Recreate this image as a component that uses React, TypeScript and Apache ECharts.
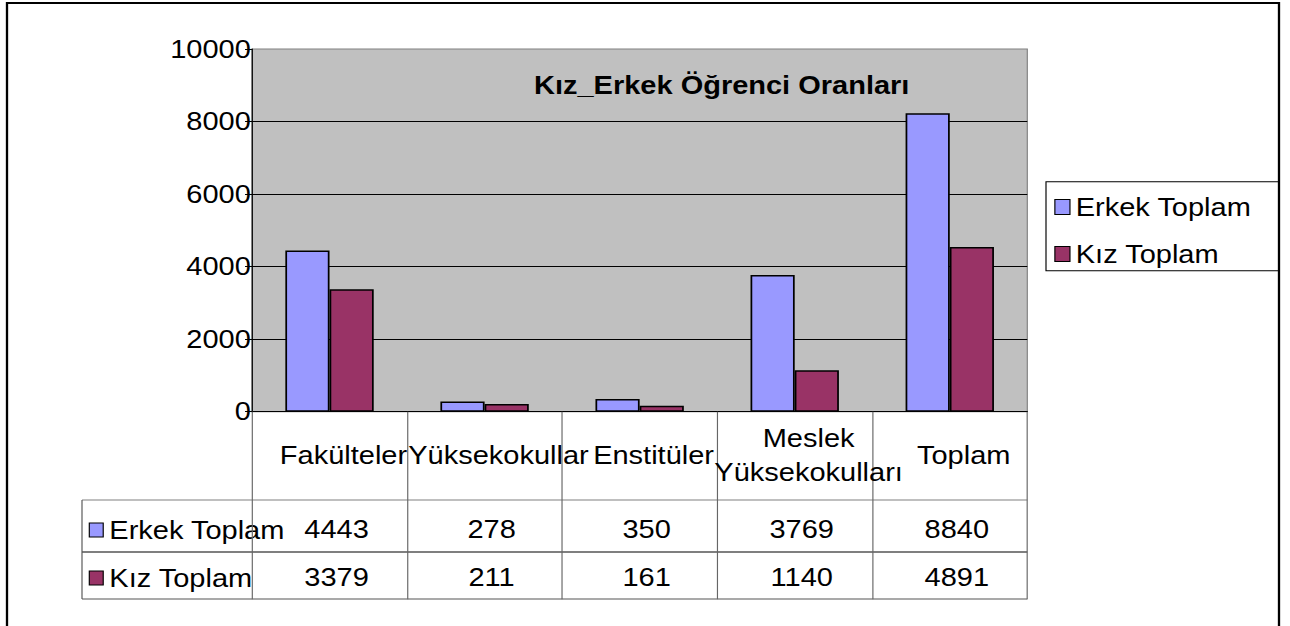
import React, { useEffect, useRef } from "react";
import * as echarts from "echarts";

// ---- data ----
const categories = ["Fakülteler", "Yüksekokullar", "Enstitüler", "Meslek\nYüksekokulları", "Toplam"];
const seriesNames = ["Erkek Toplam", "Kız Toplam"];
// bar heights as drawn in the picture
const erkekBars = [4443, 278, 350, 3769, 8230];
const kizBars = [3379, 211, 161, 1140, 4540];
// values printed in the data table
const erkekTable = ["4443", "278", "350", "3769", "8840"];
const kizTable = ["3379", "211", "161", "1140", "4891"];
const yTicks = { min: 0, max: 10000, interval: 2000 };
const titleText = "Kız_Erkek Öğrenci Oranları";

// ---- style ----
const S = 1.16; // horizontal stretch of the reference
const W = 1290 / S;
const FONT = "'Liberation Sans', Arial, sans-serif";
const ERKEK = "#9999FF";
const KIZ = "#993366";
const FS = 25;

export default function App() {
  const ref = useRef<HTMLDivElement>(null);
  useEffect(() => {
    if (!ref.current) return;
    const chart = echarts.init(ref.current, null, { renderer: "svg" });
    const gridLeft = 252 / S;
    const gridRight = 1027.3 / S;
    const gridTop = 49;
    const gridBottom = 411.7;
    const option: any = {
      animation: false,
      textStyle: { fontFamily: FONT },
      title: {
        text: titleText,
        left: 534 / S,
        top: 70,
        padding: 0,
        textStyle: { fontSize: FS, fontWeight: "bold", color: "#000", lineHeight: 30, fontFamily: FONT },
      },
      legend: {
        data: seriesNames,
        orient: "vertical",
        left: 1054.3 / S,
        top: 192,
        padding: 0,
        itemWidth: 13,
        itemHeight: 15,
        itemGap: 17,
        icon: "rect",
        itemStyle: { borderColor: "#000", borderWidth: 1 },
        textStyle: { fontSize: FS, color: "#000", lineHeight: 30, fontFamily: FONT },
      },
      grid: {
        left: gridLeft,
        top: gridTop,
        width: gridRight - gridLeft,
        height: gridBottom - gridTop,
        show: true,
        backgroundColor: "#C0C0C0",
        borderColor: "#808080",
        borderWidth: 1,
        containLabel: false,
        outerBoundsMode: "none",
      },
      xAxis: {
        type: "category",
        data: categories,
        axisLine: { show: true, lineStyle: { color: "#000", width: 1 } },
        axisTick: { show: true, length: 187.5, lineStyle: { color: "#666", width: 1 } },
        axisLabel: {
          interval: 0,
          margin: 44,
          verticalAlign: "middle",
          fontSize: FS,
          lineHeight: 34,
          color: "#000",
          fontFamily: FONT,
          padding: [0, 0, 0, 24],
          hideOverlap: false,
        },
        splitLine: { show: false },
      },
      yAxis: {
        type: "value",
        min: yTicks.min,
        max: yTicks.max,
        interval: yTicks.interval,
        axisLine: { show: true, lineStyle: { color: "#000", width: 1 } },
        axisTick: { show: true, length: 6, lineStyle: { color: "#000" } },
        axisLabel: {
          margin: 1,
          fontSize: FS,
          color: "#000",
          fontFamily: FONT,
          formatter: (v: number) => String(v),
        },
        splitLine: { show: true, showMaxLine: false, lineStyle: { color: "#000", width: 1 } },
      },
      series: [
        {
          name: seriesNames[0],
          type: "bar",
          data: erkekBars,
          barGap: "0%",
          barCategoryGap: "43%",
          itemStyle: { color: ERKEK, borderColor: "#000", borderWidth: 1.5 },
        },
        {
          name: seriesNames[1],
          type: "bar",
          data: kizBars,
          barGap: "0%",
          barCategoryGap: "43%",
          itemStyle: { color: KIZ, borderColor: "#000", borderWidth: 1.5 },
        },
      ],
    };
    chart.setOption(option);

    const centers = categories.map((_, i) => {
      const p = chart.convertToPixel({ gridIndex: 0 }, [i, 0]) as number[];
      return p[0];
    });
    const rowY = [529, 577];
    const lineTop = 500;
    const lineMid = 552;
    const lineBot = 599;
    const tableLeft = 82 / S;
    const graphics: any[] = [
      {
        type: "rect",
        shape: { x: 7 / S, y: 3, width: (1279 - 7) / S, height: 660 },
        style: { fill: "none", stroke: "#000", lineWidth: 2 },
        silent: true,
        z: 0,
      },
      {
        type: "rect",
        shape: { x: 1046 / S, y: 181.7, width: (1278.7 - 1046) / S, height: 89 },
        style: { fill: "none", stroke: "#000", lineWidth: 1 },
        silent: true,
      },
      {
        type: "line",
        shape: { x1: tableLeft, y1: lineTop, x2: gridRight, y2: lineTop },
        style: { stroke: "#808080", lineWidth: 1 },
      },
      {
        type: "line",
        shape: { x1: tableLeft, y1: lineMid, x2: gridRight, y2: lineMid },
        style: { stroke: "#000", lineWidth: 1 },
      },
      {
        type: "line",
        shape: { x1: tableLeft, y1: lineBot, x2: gridRight, y2: lineBot },
        style: { stroke: "#555", lineWidth: 1 },
      },
      {
        type: "line",
        shape: { x1: tableLeft, y1: lineTop, x2: tableLeft, y2: lineBot },
        style: { stroke: "#555", lineWidth: 1 },
      },
    ];
    const colors = [ERKEK, KIZ];
    const tables = [erkekTable, kizTable];
    seriesNames.forEach((name, r) => {
      graphics.push({
        type: "rect",
        shape: { x: 89.3 / S, y: rowY[r] - 6, width: 12, height: 14 },
        style: { fill: colors[r], stroke: "#000", lineWidth: 1 },
      });
      graphics.push({
        type: "text",
        x: 109.3 / S,
        y: rowY[r] + 1,
        style: { text: name, fontSize: FS, fontFamily: FONT, fill: "#000", verticalAlign: "middle", align: "left" },
      });
      tables[r].forEach((v, i) => {
        graphics.push({
          type: "text",
          x: centers[i] + 7 / S,
          y: rowY[r],
          style: { text: v, fontSize: FS, fontFamily: FONT, fill: "#000", verticalAlign: "middle", align: "center" },
        });
      });
    });
    chart.setOption({ graphic: graphics });

    return () => chart.dispose();
  }, []);
  return (
    <div
      ref={ref}
      style={{
        position: "fixed",
        left: 0,
        top: 0,
        width: W + "px",
        height: "626px",
        transform: `scaleX(${S})`,
        transformOrigin: "0 0",
        background: "#fff",
      }}
    />
  );
}
